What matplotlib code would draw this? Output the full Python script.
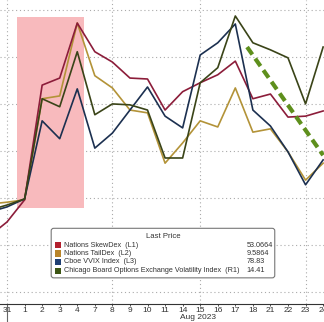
import matplotlib
matplotlib.use("Agg")
import matplotlib.pyplot as plt
from matplotlib.patches import Rectangle, FancyBboxPatch
from matplotlib import font_manager

# trading days shown on the axis (28 Jul sits just off the left edge)
day_labels = ['28', '31', '1', '2', '3', '4', '7', '8', '9', '10', '11',
              '14', '15', '16', '17', '18', '21', '22', '23', '24']
day_pos = list(range(-1, len(day_labels) - 1))

# series, rescaled onto a shared grid (grid lines at 0..6)
skewdex = [1.19, 1.49, 1.96, 4.40, 4.55, 5.72, 5.11, 4.89, 4.55, 4.53,
           3.87, 4.26, 4.45, 4.62, 4.91, 4.11, 4.21, 3.72, 3.74, 3.85]
taildex = [1.87, 1.91, 1.96, 4.11, 4.17, 5.72, 4.60, 4.34, 3.87, 3.81,
           2.74, 3.17, 3.64, 3.51, 4.34, 3.40, 3.47, 2.98, 2.38, 2.74]
vvix = [1.70, 1.81, 1.98, 3.64, 3.26, 4.32, 3.06, 3.38, 3.87, 4.36,
        3.74, 3.49, 5.04, 5.30, 5.70, 3.87, 3.53, 2.98, 2.28, 2.81]
vix = [1.74, 1.85, 1.98, 4.11, 3.94, 5.11, 3.77, 4.00, 3.98, 3.87,
       2.85, 2.85, 4.45, 4.77, 5.87, 5.30, 5.15, 4.98, 4.00, 5.21]

legend_names = ['Nations SkewDex  (L1)', 'Nations TailDex  (L2)',
                'Cboe VVIX Index  (L3)',
                'Chicago Board Options Exchange Volatility Index  (R1)']
legend_values = ['53.0664', '9.5864', '78.83', '14.41']
swatch_colors = ['#b3202e', '#b9852a', '#1f3f73', '#3d5614']
line_colors = ['#8c1d3a', '#b39338', '#1c3050', '#3a4418']

# shaded window and trend arrow
shade_x = [0.57, 4.38]
shade_y = [1.79, 5.85]
trend_x = [13.67, 18.0]
trend_y = [5.21, 2.91]

grid_days = [0, 6, 11, 17]

avail = {f.name for f in font_manager.fontManager.ttflist}
fam = 'Liberation Sans Narrow' if 'Liberation Sans Narrow' in avail else 'Liberation Sans'
plt.rcParams['font.family'] = fam

fig = plt.figure(figsize=(3.24, 3.22), dpi=100)
ax = fig.add_axes([0, 18 / 322, 1, 304 / 322])
ax.set_xlim(-0.40, 18.05)
ax.set_ylim(-0.255, 6.21)

ax.add_patch(Rectangle((shade_x[0], shade_y[0]), shade_x[1] - shade_x[0],
                       shade_y[1] - shade_y[0], facecolor='#f8babd',
                       edgecolor='none', zorder=1))

for g in range(7):
    ax.axhline(g, color='#aaaaaa', lw=0.8, ls=(0, (1, 2.5)), zorder=0)
for d in grid_days:
    ax.axvline(d, color='#aaaaaa', lw=0.8, ls=(0, (1, 2.5)), zorder=0)

ax.plot(day_pos, taildex, color=line_colors[1], lw=1.2, zorder=3)
ax.plot(day_pos, skewdex, color=line_colors[0], lw=1.2, zorder=3)
ax.plot(day_pos, vvix, color=line_colors[2], lw=1.2, zorder=3)
ax.plot(day_pos, vix, color=line_colors[3], lw=1.2, zorder=3)

ax.plot(trend_x, trend_y, color='#5e8f1c', lw=3, ls=(0, (2.2, 1.2)),
        zorder=4)

for s in ['top', 'right', 'left']:
    ax.spines[s].set_visible(False)
ax.spines['bottom'].set_color('#333333')
ax.spines['bottom'].set_linewidth(0.8)
ax.set_yticks([])
ax.set_xticks(day_pos[1:])
ax.set_xticklabels(day_labels[1:], fontsize=6, color='#333333')
ax.tick_params(axis='x', length=1.5, width=0.6, pad=0.5, color='#333333')
ax.text(0.61, -0.045, 'Aug 2023', transform=ax.transAxes, fontsize=6,
        color='#333333', ha='center', va='center')
# month separator under the axis
ax.plot([0, 0], [0, -0.06], transform=ax.get_xaxis_transform(),
        color='#666666', lw=0.8, clip_on=False)

# legend box
ax.add_patch(FancyBboxPatch((0.158, 0.086), 0.69, 0.163,
                            boxstyle='round,pad=0,rounding_size=0.008',
                            transform=ax.transAxes, facecolor='white',
                            edgecolor='#777777', lw=0.8, zorder=6))
ax.text(0.503, 0.221, 'Last Price', transform=ax.transAxes, fontsize=5.6,
        color='#333333', ha='center', va='center', zorder=7)
row_y = [0.194, 0.167, 0.139, 0.110]
for name, val, col, y in zip(legend_names, legend_values, swatch_colors, row_y):
    ax.add_patch(Rectangle((0.170, y - 0.011), 0.019, 0.021,
                           transform=ax.transAxes, facecolor=col,
                           edgecolor='none', zorder=7))
    ax.text(0.197, y, name, transform=ax.transAxes, fontsize=5.2,
            color='#333333', ha='left', va='center', zorder=7)
    ax.text(0.762, y, val, transform=ax.transAxes, fontsize=5.2,
            color='#333333', ha='left', va='center', zorder=7)

fig.savefig('out.png', dpi=100)
